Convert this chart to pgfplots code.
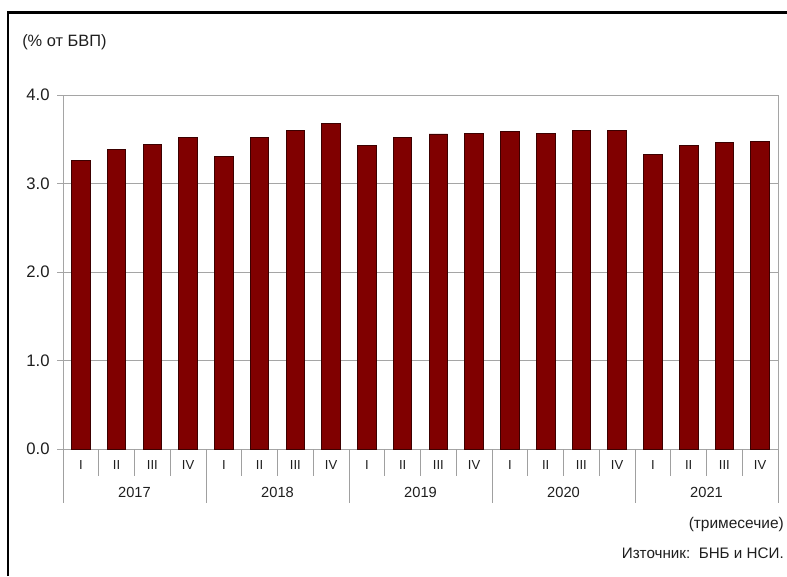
\documentclass[border=0pt]{standalone}
\usepackage{pgfplots}
\pgfplotsset{compat=1.18}
\usepackage{fontspec}
\setmainfont{Liberation Sans}

\definecolor{barred}{RGB}{128,0,0}
\definecolor{baredge}{RGB}{60,0,0}
\definecolor{gridgray}{RGB}{165,165,165}
\definecolor{sepgray}{RGB}{160,160,160}
\definecolor{txt}{RGB}{30,30,30}

\pgfplotstableread{
x v
0 3.26
1 3.38
2 3.44
3 3.52
4 3.31
5 3.52
6 3.60
7 3.68
8 3.43
9 3.52
10 3.56
11 3.57
12 3.585
13 3.57
14 3.60
15 3.60
16 3.33
17 3.43
18 3.46
19 3.48
}\gdpdata

\begin{document}
% 1 px of the reference = 0.75pt
\begin{tikzpicture}[x=0.75pt,y=-0.75pt]
\useasboundingbox (0,0) rectangle (787,576);
\draw[line width=1.6pt] (8,576) -- (8,12.5) -- (787,12.5);

\node[anchor=west, text=txt, inner sep=0pt,
      font=\fontsize{12.3}{14}\selectfont] at (22,42) {(\% от БВП)};
\node[anchor=east, text=txt, inner sep=0pt,
      font=\fontsize{11.6}{13}\selectfont] at (784,524) {(тримесечие)};
\node[anchor=east, text=txt, inner sep=0pt,
      font=\fontsize{11.4}{13}\selectfont] at (784,553) {Източник:\ \ БНБ и НСИ.};

\begin{axis}[
    at={(47.25pt,-336.75pt)}, anchor=south west,
    scale only axis,
    width=536.25pt, height=265.5pt,
    xmin=-0.5, xmax=19.5,
    ymin=0, ymax=4,
    ytick={0,1,2,3,4},
    yticklabel style={font=\fontsize{12.5}{14}\selectfont, text=txt, xshift=-2pt},
    yticklabel style={/pgf/number format/.cd, fixed, fixed zerofill, precision=1,
                      assume math mode=true},
    ytick style={gridgray},
    ytick pos=left,
    tick align=outside,
    major tick length=4.5pt,
    xtick={0,...,19},
    xticklabels={I,II,III,IV,I,II,III,IV,I,II,III,IV,I,II,III,IV,I,II,III,IV},
    xtick style={draw=none},
    xtick pos=bottom,
    xticklabel style={font=\fontsize{9.8}{10}\selectfont, text=txt,
                      anchor=center, yshift=-7.5pt},
    ymajorgrids,
    grid style={gridgray, line width=0.6pt},
    axis line style={gridgray, line width=0.6pt},
    clip=false,
    ybar, bar width=13.9pt,
]
\addplot[fill=barred, draw=baredge, line width=0.6pt] table[x=x, y=v] {\gdpdata};

% quarter separators
\pgfplotsinvokeforeach{0.5,1.5,2.5,4.5,5.5,6.5,8.5,9.5,10.5,12.5,13.5,14.5,16.5,17.5,18.5}{
  \draw[sepgray, line width=0.6pt] (axis cs:#1,0) -- ++(0pt,-20.25pt);
}
% year separators
\pgfplotsinvokeforeach{-0.5,3.5,7.5,11.5,15.5,19.5}{
  \draw[sepgray, line width=0.6pt] (axis cs:#1,0) -- ++(0pt,-40.5pt);
}
% years
\node[text=txt, font=\fontsize{11}{12}\selectfont] at (axis cs:1.5,0) [yshift=-32.25pt] {2017};
\node[text=txt, font=\fontsize{11}{12}\selectfont] at (axis cs:5.5,0) [yshift=-32.25pt] {2018};
\node[text=txt, font=\fontsize{11}{12}\selectfont] at (axis cs:9.5,0) [yshift=-32.25pt] {2019};
\node[text=txt, font=\fontsize{11}{12}\selectfont] at (axis cs:13.5,0) [yshift=-32.25pt] {2020};
\node[text=txt, font=\fontsize{11}{12}\selectfont] at (axis cs:17.5,0) [yshift=-32.25pt] {2021};
\end{axis}
\end{tikzpicture}
\end{document}
